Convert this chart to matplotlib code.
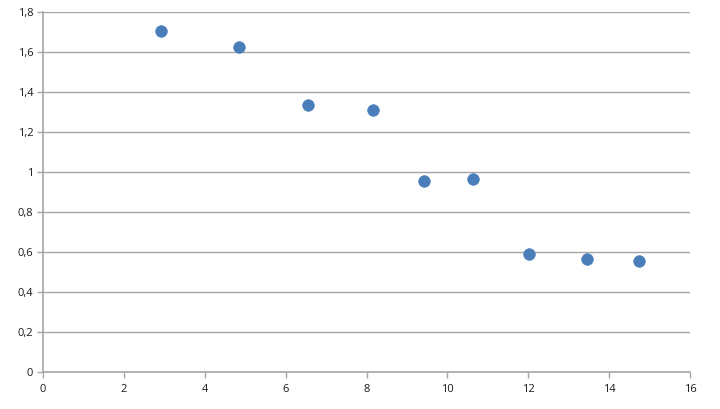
import matplotlib
matplotlib.use("Agg")
import matplotlib.pyplot as plt
from matplotlib.ticker import FuncFormatter, MultipleLocator

plt.rcParams['font.family'] = ['Open Sans', 'DejaVu Sans']

x_values = [2.93, 4.84, 6.55, 8.15, 9.43, 10.64, 12.03, 13.45, 14.73]
y_values = [1.705, 1.625, 1.335, 1.31, 0.953, 0.963, 0.592, 0.566, 0.555]

fig = plt.figure(figsize=(7.2, 4.09), dpi=100)
ax = fig.add_axes([43 / 720, 1 - 372 / 409, 647 / 720, 360 / 409])

ax.scatter(x_values, y_values, s=70, color='#4a7ebb', edgecolors='#4a7ebb',
           linewidths=0.5, zorder=3)

ax.set_xlim(0, 16)
ax.set_ylim(0, 1.8)
ax.xaxis.set_major_locator(MultipleLocator(2))
ax.yaxis.set_major_locator(MultipleLocator(0.2))


def comma_fmt(v, pos):
    s = ('%.1f' % v).rstrip('0').rstrip('.')
    return s.replace('.', ',')


ax.yaxis.set_major_formatter(FuncFormatter(comma_fmt))
ax.xaxis.set_major_formatter(FuncFormatter(comma_fmt))

ax.grid(axis='y', color='#a6a6a6', linewidth=1)
ax.set_axisbelow(True)
for side in ['top', 'right']:
    ax.spines[side].set_visible(False)
for side in ['left', 'bottom']:
    ax.spines[side].set_color('#a6a6a6')
    ax.spines[side].set_linewidth(1.2)

ax.tick_params(axis='both', direction='out', length=4, width=1, color='#a6a6a6',
               labelsize=8, labelcolor='#1a1a1a')
ax.tick_params(axis='x', pad=5)
ax.tick_params(axis='y', pad=3)

fig.savefig('out.png', dpi=100)
